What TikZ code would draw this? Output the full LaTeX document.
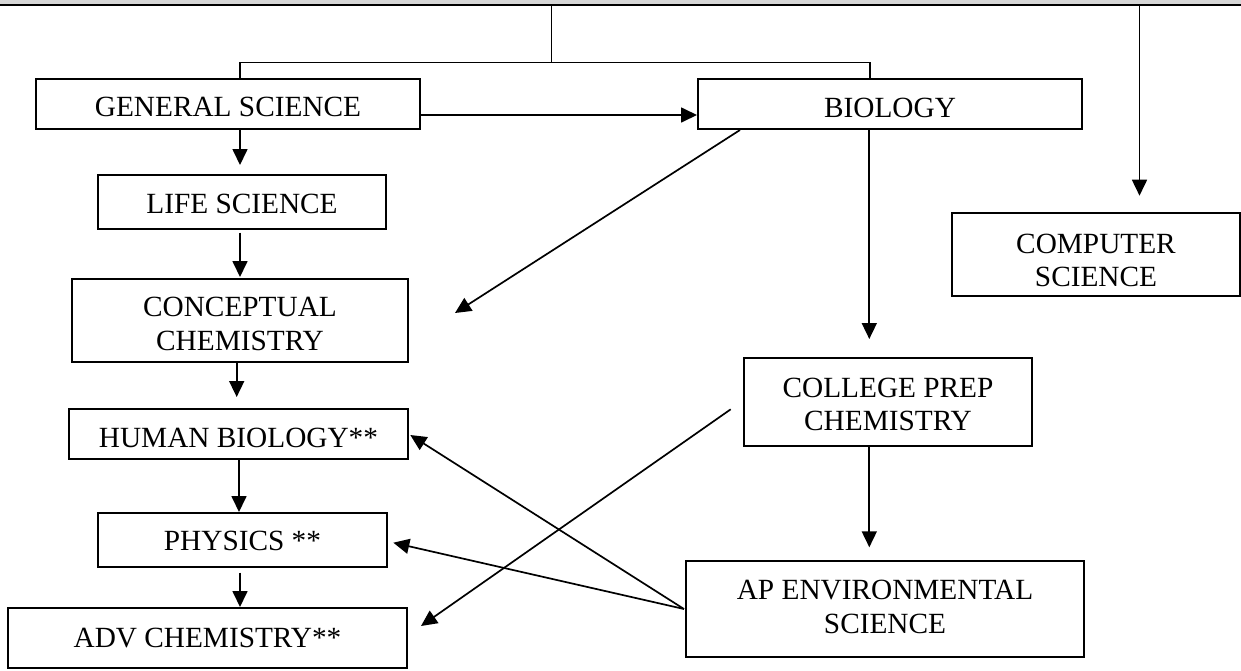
\documentclass[tikz,border=0pt]{standalone}
\usepackage{fontspec}
\setmainfont{Liberation Serif}
\usetikzlibrary{arrows.meta}
\tikzset{
  x=1pt,y=-1pt,
  box/.style={draw, line width=2pt, inner sep=0pt, align=center,
    font=\fontsize{29.3}{33.6}\selectfont},
  conn/.style={line width=1.7pt},
  arr/.style={conn, -{Triangle[length=16pt,width=15pt]}}
}
\begin{document}
\begin{tikzpicture}
\useasboundingbox (0,0) rectangle (1241,670);
% top band
\fill[gray!32] (0,0) rectangle (1241,4.5);
\draw[line width=2pt] (0,5.2) -- (1241,5.2);
\coordinate (top) at (551.6,5.2);
\coordinate (topR) at (1139.5,5.2);

% boxes
\node[box, minimum width=384, minimum height=50] (GS) at (228,104) {\rule{0pt}{25.6pt}GENERAL SCIENCE};
\node[box, minimum width=288, minimum height=54] (LS) at (242,202) {\rule{0pt}{23pt}LIFE SCIENCE};
\node[box, minimum width=336, minimum height=83] (CC) at (240,320.5) {\rule{0pt}{26pt}CONCEPTUAL\\CHEMISTRY};
\node[box, minimum width=339, minimum height=50] (HB) at (238.5,434) {\rule{0pt}{26.6pt}HUMAN BIOLOGY**};
\node[box, minimum width=289, minimum height=54] (PH) at (242.5,540) {\rule{0pt}{22.2pt}PHYSICS **};
\node[box, minimum width=399, minimum height=60] (AC) at (207.5,638) {ADV CHEMISTRY**};
\node[box, minimum width=384, minimum height=50] (BIO) at (890,104) {\rule{0pt}{28pt}BIOLOGY};
\node[box, minimum width=288, minimum height=83] (CS) at (1096,254.5) {\rule{0pt}{31.6pt}COMPUTER\\SCIENCE};
\node[box, minimum width=288, minimum height=88] (CP) at (888,402) {\rule{0pt}{24pt}COLLEGE PREP\\CHEMISTRY};
\node[box, minimum width=398, minimum height=96] (AP) at (885,609) {AP ENVIRONMENTAL\\SCIENCE\rule[-5pt]{0pt}{0pt}};

% top tree
\draw[conn] (top) -- ++(0,57.3) coordinate (tj);
\draw[conn] ([xshift=12]GS.north) |- (tj);
\draw[conn] ([xshift=-20]BIO.north) |- (tj);
\draw[arr, shorten >=16.3pt] (topR) -- (topR |- CS.north);

% left column
\draw[arr, shorten >=9pt] ([xshift=12]GS.south) -- ([xshift=-2]LS.north);
\draw[arr, shorten <=2.7pt, shorten >=1pt] ([xshift=-2]LS.south) -- (CC.north);
\draw[arr, shorten >=11pt] ([xshift=-3.3]CC.south) -- ([xshift=-1.8]HB.north);
\draw[arr] ([xshift=0.5]HB.south) -- ([xshift=-3.5]PH.north);
\draw[arr, shorten <=4.7pt] ([xshift=-2.5]PH.south) -- ([xshift=32.5]AC.north);

% from general science / biology
\draw[arr] ([yshift=-11]GS.east) -- ([yshift=-11]BIO.west);
\draw[arr] ([xshift=-150]BIO.south) -- ([xshift=46,yshift=7.5]CC.east);
\draw[arr, shorten >=18pt] ([xshift=-20.7]BIO.south) -- ([xshift=-18.7]CP.north);

% college prep
\draw[arr, shorten >=12.7pt, shorten <=0.3pt] ([xshift=-18.7]CP.south) -- ([xshift=-15.7]AP.north);
\draw[arr] ([xshift=-12.3,yshift=-7.3]CP.west) -- ([xshift=13,yshift=12]AC.east);

% AP environmental
\draw[arr] ([xshift=-1]AP.west) -- ([xshift=1.3,yshift=-1]HB.east);
\draw[arr] ([xshift=-1]AP.west) -- ([xshift=5.3,yshift=-2.7]PH.east);
\end{tikzpicture}
\end{document}
